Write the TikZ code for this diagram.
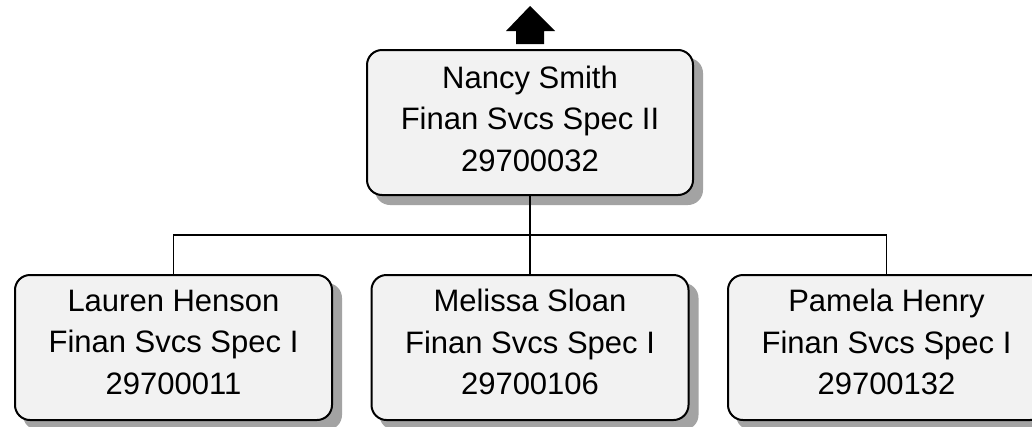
\documentclass[tikz,border=0pt]{standalone}
\usepackage{fontspec}
\setmainfont{Liberation Sans}
\pgfdeclarelayer{background}
\pgfsetlayers{background,main}
\begin{document}
\begin{tikzpicture}[x=1pt,y=-1pt,
  card/.style={draw=black,line width=2pt,fill=cardfill,rounded corners=15pt,minimum width=317pt,minimum height=145pt,inner sep=0pt},
  cardshadow/.style={fill=shadowgray,rounded corners=15pt},
  cardtext/.style={align=center,font=\fontsize{31}{41.5}\selectfont,inner sep=0pt},
  link/.style={draw=black,line width=1.6pt}]
\definecolor{cardfill}{HTML}{F2F2F2}
\definecolor{shadowgray}{HTML}{A3A3A3}
\useasboundingbox (0,0) rectangle (1032,426);
\clip (0,0) rectangle (1032,426);
% boxes
\node[card,minimum width=326pt] (top) at (530,122.5) {};
\node[card] (lb) at (173.5,347.5) {};
\node[card] (mb) at (530,347.5) {};
\node[card] (rb) at (886.5,347.5) {};
\coordinate (join) at (530,235);
\begin{pgfonlayer}{background}
  % shadows
  \foreach \b in {top,lb,mb,rb}
    \fill[cardshadow] ([shift={(9,9)}]\b.north west) rectangle ([shift={(9,9)}]\b.south east);
  % connectors
  \draw[link] (top.south) -- (mb.north);
  \draw[link] (lb.north) |- (join) -| (rb.north);
\end{pgfonlayer}
% texts
\node[cardtext] (tt) at (530,118.5) {Nancy Smith\\Finan Svcs Spec II\\29700032};
\node[cardtext] (lt) at (173.5,342) {Lauren Henson\\Finan Svcs Spec I\\29700011};
\node[cardtext] (mt) at (530,342) {Melissa Sloan\\Finan Svcs Spec I\\29700106};
\node[cardtext] (rt) at (886.5,342) {Pamela Henry\\Finan Svcs Spec I\\29700132};
% up arrow
\fill[black] (506,31) -- (530,6) -- (555,31) -- (544,31) -- (544,44) -- (516,44) -- (516,31) -- cycle;
\end{tikzpicture}
\end{document}
